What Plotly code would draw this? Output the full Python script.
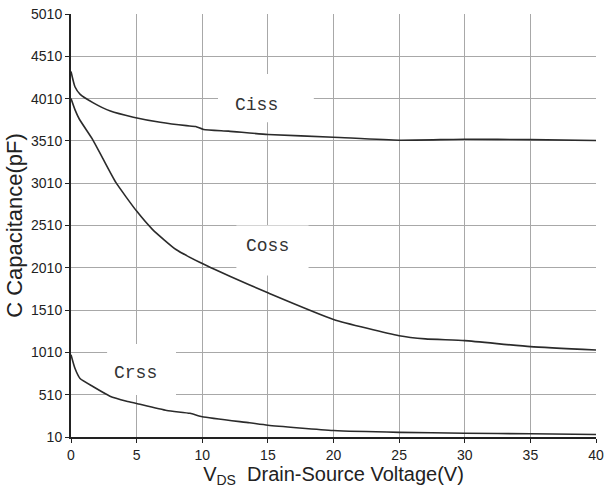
import plotly.graph_objects as go

# ---- data ----
ciss_x = [0, 0.3, 0.7, 1.7, 3, 4.75, 6.8, 8.8, 9.5, 10.1, 12, 15, 20, 25, 30, 35, 40]
ciss_y = [4330, 4150, 4060, 3960, 3862, 3790, 3730, 3690, 3680, 3645, 3625, 3586, 3554, 3518, 3530, 3525, 3515]

coss_x = [0, 0.3, 0.63, 1.65, 2.4, 3.43, 5, 6.22, 8, 9.8, 12.1, 15, 20, 25, 27, 30, 35, 40]
coss_y = [4010, 3880, 3769, 3526, 3310, 3016, 2680, 2462, 2226, 2075, 1910, 1714, 1400, 1207, 1170, 1149, 1078, 1039]

crss_x = [0, 0.3, 0.69, 1.7, 2.97, 4.24, 5, 7.3, 9.07, 10, 13.6, 15, 20, 25, 30, 35, 40]
crss_y = [983, 822, 701, 604, 493, 433, 406, 323, 290, 250, 178, 149, 87, 65, 55, 48, 40]

series_names = ["Ciss", "Coss", "Crss"]
y_ticks = [10, 510, 1010, 1510, 2010, 2510, 3010, 3510, 4010, 4510, 5010]
x_ticks = [0, 5, 10, 15, 20, 25, 30, 35, 40]

# label placement (data coords) and white box extents (data units)
label_pos = [(14.15, 3930), (15.0, 2270), (4.9, 765)]
box_extent = [(11.2, 4300, 18.5, 3730), (12.6, 2510, 18.1, 1920), (2.75, 1110, 8.0, 505)]

fig = go.Figure()
line_color = "#2b2b2b"
for xs, ys, nm in [(ciss_x, ciss_y, series_names[0]),
                   (coss_x, coss_y, series_names[1]),
                   (crss_x, crss_y, series_names[2])]:
    fig.add_trace(go.Scatter(x=xs, y=ys, mode="lines", name=nm,
                             line=dict(color=line_color, width=1.6, shape="spline", smoothing=0.5),
                             showlegend=False, hoverinfo="skip"))

for (x0, y0, x1, y1) in box_extent:
    fig.add_shape(type="rect", xref="x", yref="y", x0=x0, x1=x1, y0=y0, y1=y1,
                  fillcolor="white", line=dict(width=0), layer="between")

for (lx, ly), nm in zip(label_pos, series_names):
    fig.add_annotation(x=lx, y=ly, xref="x", yref="y", text=nm, showarrow=False,
                       font=dict(family="Liberation Mono, DejaVu Sans Mono, monospace",
                                 size=18, color="#333333"))

fig.update_layout(
    width=606, height=496,
    margin=dict(l=71, r=10, t=14, b=59, autoexpand=False),
    paper_bgcolor="white", plot_bgcolor="white",
    font=dict(family="Liberation Sans, Arial, sans-serif", color="#222222"),
)
fig.update_xaxes(range=[0, 40], tickvals=x_ticks, ticktext=[str(v) for v in x_ticks],
                 automargin=False,
                 showgrid=True, gridcolor="#a8a8a8", gridwidth=1,
                 showline=True, linecolor="#222222", linewidth=2,
                 ticks="outside", ticklen=4, tickcolor="#222222",
                 tickfont=dict(size=14, color="#222222"),
                 zeroline=False,
                 title=dict(text="V<sub>DS</sub>  Drain-Source Voltage(V)",
                            font=dict(size=20, color="#222222"), standoff=2))
fig.update_yaxes(range=[10, 5010], tickvals=y_ticks, ticktext=[str(v) for v in y_ticks],
                 automargin=False,
                 showgrid=True, gridcolor="#a8a8a8", gridwidth=1,
                 showline=True, linecolor="#222222", linewidth=2,
                 ticks="outside", ticklen=4, tickcolor="#222222",
                 tickfont=dict(size=14, color="#222222"),
                 zeroline=False,
                 title=dict(text="C Capacitance(pF)", font=dict(size=22, color="#222222"),
                            standoff=2))

fig.write_html("out.html")
